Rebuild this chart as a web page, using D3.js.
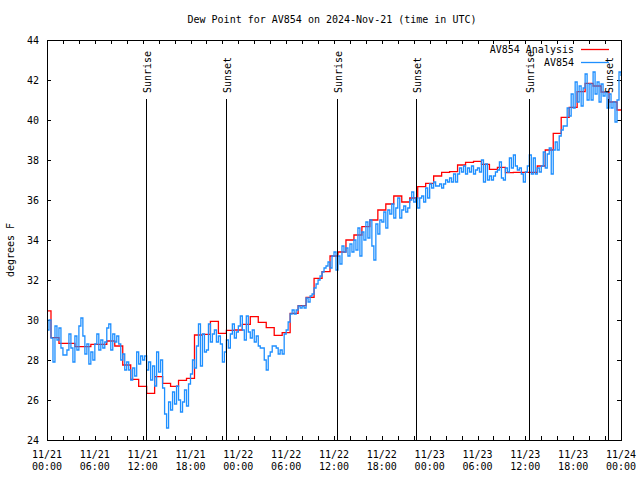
<!DOCTYPE html>
<html><head><meta charset="utf-8">
<script src="https://cdn.jsdelivr.net/npm/d3@7"></script>
<style>
body{margin:0;background:#fff;}
text{font-family:"DejaVu Sans Mono",monospace;font-size:10px;fill:#000;}
</style></head>
<body>
<svg id="c" width="640" height="480"></svg>
<script>
const title = "Dew Point for AV854 on 2024-Nov-21 (time in UTC)";
const yLabel = "degrees F";
const startTime = "2024-11-21T00:00:00Z";
const endTime = "2024-11-24T00:00:00Z";
const yTicks = [24,26,28,30,32,34,36,38,40,42,44];
const seriesNames = ["AV854 Analysis","AV854"];

// hourly analysis values from 00:00 on 11/21
const analysisValues = [
30.46,29.12,28.83,28.83,28.67,28.67,28.78,28.78,28.95,28.7,
27.75,27.03,26.68,26.33,27.17,26.83,26.68,26.98,27.08,29.25,
29.28,29.93,29.33,29.48,29.5,29.78,30.17,29.88,29.62,29.23,
29.37,30.33,30.72,31.13,32.08,32.42,33.2,33.4,34.0,34.25,
34.67,35.0,35.5,35.8,36.2,35.9,36.1,36.67,36.83,37.2,
37.38,37.42,37.75,37.88,37.93,37.78,37.53,37.63,37.37,37.38,
37.38,37.38,37.7,38.5,39.33,40.13,40.63,41.42,41.83,41.7,
41.4,40.9,40.5];

// 15-minute observation values from 00:00 on 11/21
const obsValues = [
29.5,30.0,29.1,27.9, 29.7,29.0,29.6,28.6, 28.25,28.25,28.5,29.3, 28.6,27.9,29.2,28.5,
29.7,30.1,29.2,28.3, 28.8,27.8,28.4,28.0, 28.8,29.3,28.5,29.0, 28.6,28.9,29.6,29.8,
28.5,29.3,28.9,29.2, 28.8,28.0,28.3,27.5, 27.9,27.5,27.0,27.6, 27.2,28.4,27.8,28.2,
28.0,28.2,27.5,27.9, 27.0,27.7,26.7,28.4, 27.4,28.0,26.6,25.3, 24.6,25.9,25.5,26.4,
25.8,26.7,26.0,25.4, 25.9,26.5,25.7,26.8, 27.3,28.0,27.6,28.7, 29.8,27.7,29.3,28.4,
28.5,29.8,28.9,29.3, 29.5,28.9,29.2,28.8, 27.9,28.4,29.0,28.6, 29.3,29.8,29.1,29.4,
29.7,30.2,29.5,29.0, 30.2,29.4,29.1,29.5, 28.9,29.2,28.7,28.6, 28.6,28.0,27.5,28.2,
28.4,28.7,28.7,28.6, 28.3,28.5,28.3,29.3, 29.5,29.9,30.3,30.5, 30.3,30.5,30.7,30.6,
30.7,30.6,31.1,30.9, 31.2,31.3,31.6,31.8, 32.0,32.2,32.4,32.6, 32.7,32.9,32.6,33.2,
33.4,32.5,33.2,32.8, 33.7,33.4,33.6,33.2, 33.8,33.4,34.0,33.5, 34.6,33.2,34.4,34.0,
34.9,34.1,35.0,33.7, 33.0,34.8,34.3,35.0, 34.9,35.4,34.6,35.5, 35.3,35.8,35.1,35.6,
36.1,35.1,35.5,35.7, 35.4,35.6,36.0,36.4, 35.9,36.1,35.6,36.1, 36.2,35.9,36.6,36.1,
36.8,36.6,36.9,36.7, 36.7,36.8,36.6,36.8, 37.0,36.9,37.1,36.9, 37.3,36.9,37.3,37.6,
37.4,37.7,37.3,37.6, 37.4,37.7,37.3,37.5, 37.6,37.4,38.0,36.9, 37.8,37.0,37.2,37.0,
37.2,37.4,37.5,37.9, 37.1,37.0,37.6,37.4, 38.1,37.6,38.25,37.7, 37.5,37.6,37.3,36.9,
37.4,37.7,38.25,37.3, 38.1,37.3,37.6,37.4, 37.7,38.4,37.6,38.3, 38.6,37.3,38.5,38.9,
38.5,39.2,39.5,39.7, 39.7,40.6,40.2,41.3, 40.6,41.9,40.9,41.7, 40.7,41.6,42.3,41.0,
41.8,41.0,42.4,41.3, 41.9,40.9,41.8,41.2, 41.4,40.6,41.3,40.6, 40.9,39.9,41.0,42.4,
42.2];

const sunEvents = [
 {label:"Sunrise", time:"2024-11-21T12:28:00Z"},
 {label:"Sunset",  time:"2024-11-21T22:29:00Z"},
 {label:"Sunrise", time:"2024-11-22T12:22:00Z"},
 {label:"Sunset",  time:"2024-11-22T22:18:00Z"},
 {label:"Sunrise", time:"2024-11-23T12:29:00Z"},
 {label:"Sunset",  time:"2024-11-23T22:25:00Z"}
];

const colors = ["#ff0000","#1e8fff"];

const L=47, R=621, T=40, B=440;
const svg = d3.select("#c");
const t0 = new Date(startTime), t1 = new Date(endTime);
const x = d3.scaleUtc().domain([t0,t1]).range([L,R]);
const y = d3.scaleLinear().domain([24,44]).range([B,T]);

const aData = analysisValues.map((v,i)=>({t:d3.utcHour.offset(t0,i), v}));
const oData = obsValues.map((v,i)=>({t:d3.utcMinute.offset(t0,i*15), v}));

svg.append("defs").append("clipPath").attr("id","clip")
  .append("rect").attr("x",L).attr("y",T).attr("width",R-L).attr("height",B-T);

// title
svg.append("text").attr("x",332).attr("y",23).attr("text-anchor","middle").text(title);
// y label
svg.append("text").attr("transform","translate(14,250) rotate(-90)")
  .attr("text-anchor","middle").text(yLabel);

// axes
const gl = svg.append("g").attr("transform",`translate(${L},0)`)
  .call(d3.axisLeft(y).tickValues(yTicks).tickSize(-4).tickPadding(8).tickFormat(d3.format("d")));
const gr = svg.append("g").attr("transform",`translate(${R},0)`)
  .call(d3.axisRight(y).tickValues(yTicks).tickSize(-4).tickFormat(""));
const gb = svg.append("g").attr("transform",`translate(0,${B})`)
  .call(d3.axisBottom(x).ticks(d3.utcHour.every(2)).tickSize(-4).tickFormat(""));
const gt = svg.append("g").attr("transform",`translate(0,${T})`)
  .call(d3.axisTop(x).ticks(d3.utcHour.every(2)).tickSize(-4).tickFormat(""));
[gl,gr,gb,gt].forEach(g=>{
  g.select(".domain").remove();
  g.selectAll("line").attr("stroke","#000").attr("shape-rendering","crispEdges");
  g.selectAll("text").style("font-family",'"DejaVu Sans Mono",monospace').style("font-size","10px").attr("fill","#000");
});

// x labels (two lines)
const labTicks = x.ticks(d3.utcHour.every(6));
const fd = d3.utcFormat("%m/%d"), fh = d3.utcFormat("%H:%M");
const xl = svg.append("g");
labTicks.forEach(d=>{
  const tx = xl.append("text").attr("x",x(d)).attr("y",458).attr("text-anchor","middle");
  tx.text(fd(d));
  xl.append("text").attr("x",x(d)).attr("y",470).attr("text-anchor","middle").text(fh(d));
});

// series
const plot = svg.append("g").attr("clip-path","url(#clip)");
const lineA = d3.line().x(d=>x(d.t)).y(d=>y(d.v)).curve(d3.curveStep);
const lineO = d3.line().x(d=>x(d.t)).y(d=>y(d.v)).curve(d3.curveStepAfter);
plot.append("path").datum(aData).attr("d",lineA).attr("fill","none")
  .attr("stroke",colors[0]).attr("stroke-width",1.3);
plot.append("path").datum(oData).attr("d",lineO).attr("fill","none")
  .attr("stroke",colors[1]).attr("stroke-width",1.3);

// sun events
sunEvents.forEach(e=>{
  const xx = Math.round(x(new Date(e.time)))+0.5;
  svg.append("line").attr("x1",xx).attr("x2",xx).attr("y1",99).attr("y2",B)
    .attr("stroke","#000").attr("stroke-width",1).attr("shape-rendering","crispEdges");
  svg.append("text").attr("transform",`translate(${xx+1},93) rotate(-90)`)
    .attr("dy","0.35em").attr("text-anchor","start").text(e.label);
});

// legend
const leg = svg.append("g");
seriesNames.forEach((n,i)=>{
  const yy = 49.5 + i*13;
  leg.append("text").attr("x",574).attr("y",yy).attr("dy","0.35em").attr("text-anchor","end").text(n);
  leg.append("line").attr("x1",581).attr("x2",609).attr("y1",yy).attr("y2",yy)
    .attr("stroke",colors[i]).attr("stroke-width",1.3);
});

// frame
svg.append("rect").attr("x",L).attr("y",T).attr("width",R-L).attr("height",B-T)
  .attr("fill","none").attr("stroke","#000").attr("stroke-width",1).attr("shape-rendering","crispEdges");
</script>
</body></html>
